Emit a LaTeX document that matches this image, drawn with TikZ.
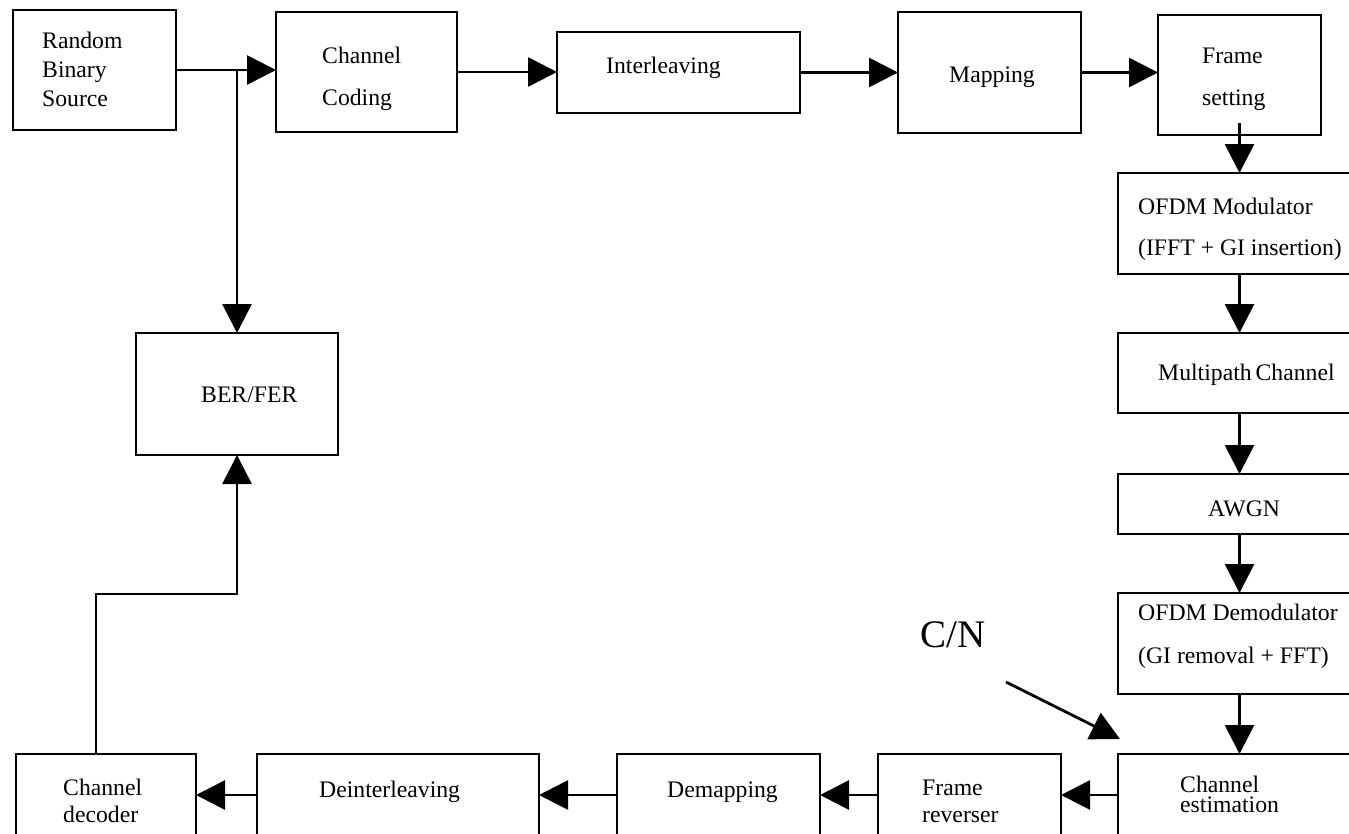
\documentclass[tikz,border=0pt]{standalone}
\usepackage{fontspec}
\setmainfont{Liberation Serif}
\usetikzlibrary{arrows.meta}
\begin{document}
\begin{tikzpicture}[x=1pt,y=-1pt,
  box/.style={draw, line width=2.8pt, rectangle, inner sep=0pt, outer sep=0pt},
  txt/.style={font=\fontsize{23.7}{29}\selectfont, inner sep=0pt, anchor=base west, align=left},
  conn/.style={line width=2.8pt, -{Triangle[length=29pt,width=29pt]}}]
\useasboundingbox (0,0) rectangle (1349,833);
\clip (0,0) rectangle (1349,833);
% boxes
\node[box, minimum width=163, minimum height=120] (src) at (94.5,70) {};
\node[box, minimum width=181, minimum height=120] (cc) at (366.5,72) {};
\node[box, minimum width=243, minimum height=81] (intl) at (678.5,72.5) {};
\node[box, minimum width=183, minimum height=121] (map) at (989.5,72.5) {};
\node[box, minimum width=163, minimum height=120] (frm) at (1239.5,75) {};
\node[box, minimum width=254, minimum height=101] (mod) at (1245,223.5) {};
\node[box, minimum width=254, minimum height=80] (mpc) at (1245,373) {};
\node[box, minimum width=254, minimum height=60] (awgn) at (1245,504) {};
\node[box, minimum width=254, minimum height=101] (dem) at (1245,643.5) {};
\node[box, minimum width=254, minimum height=82] (est) at (1245,795) {};
\node[box, minimum width=183, minimum height=82] (rev) at (969.5,795) {};
\node[box, minimum width=203, minimum height=82] (dmap) at (718.5,795) {};
\node[box, minimum width=282, minimum height=82] (dint) at (398,795) {};
\node[box, minimum width=180, minimum height=82] (dec) at (106,795) {};
\node[box, minimum width=202, minimum height=122] (ber) at (237,394) {};
% texts (anchor = baseline of the last line)
\node[txt] (tsrc) at (42,106) {Random\\Binary\\Source};
\node[txt] (tcc) at (322,105) {Channel\\[13pt]Coding};
\node[txt] (tintl) at (606,73) {Interleaving};
\node[txt] (tmap) at (949,82) {Mapping};
\node[txt] (tfrm) at (1202,105) {Frame\\[13pt]setting};
\node[txt] (tmod) at (1138,255) {OFDM Modulator\\[12pt](IFFT + GI insertion)};
\node[txt] (tmpc) at (1158,380) {Multipath\,Channel};
\node[txt] (tawgn) at (1208,516) {AWGN};
\node[txt] (tdem) at (1138,663) {OFDM Demodulator\\[14pt](GI removal + FFT)};
\node[txt] (test) at (1180,812) {Channel\\[-9pt]estimation};
\node[txt] (trev) at (922,822) {Frame\\[-2pt]reverser};
\node[txt] (tdmap) at (667,797) {Demapping};
\node[txt] (tdint) at (319,797) {Deinterleaving};
\node[txt] (tdec) at (63,822) {Channel\\[-2pt]decoder};
\node[txt] (tber) at (201,402) {BER/FER};
\node[font=\fontsize{39}{46}\selectfont, inner sep=0pt, anchor=base west] (cn) at (920,647) {C/N};
% connectors
\coordinate (j) at (237,70);
\coordinate (k) at (96,594);
\coordinate (cna) at (1006,682);
\coordinate (cnb) at (1120,739);
\draw[conn] (src.east) -- (src.east -| cc.west);
\draw[conn] (j) -- (ber.north);
\draw[conn] (cc.east) -- (cc.east -| intl.west);
\draw[conn] (intl.east) -- (intl.east -| map.west);
\draw[conn] (map.east) -- (map.east -| frm.west);
\draw[conn] ([yshift=12pt]frm.south) -- (frm.south |- mod.north);
\draw[conn] (mod.south -| frm.south) -- (mpc.north -| frm.south);
\draw[conn] (mpc.south -| frm.south) -- (awgn.north -| frm.south);
\draw[conn] (awgn.south -| frm.south) -- (dem.north -| frm.south);
\draw[conn] (dem.south -| frm.south) -- (est.north -| frm.south);
\draw[conn] (est.west) -- (rev.east);
\draw[conn] (rev.west) -- (dmap.east);
\draw[conn] (dmap.west) -- (dint.east);
\draw[conn] (dint.west) -- (dec.east);
\draw[conn] (dec.north -| k) -- (k) -| (ber.south);
\draw[conn] (cna) -- (cnb);
\end{tikzpicture}
\end{document}
